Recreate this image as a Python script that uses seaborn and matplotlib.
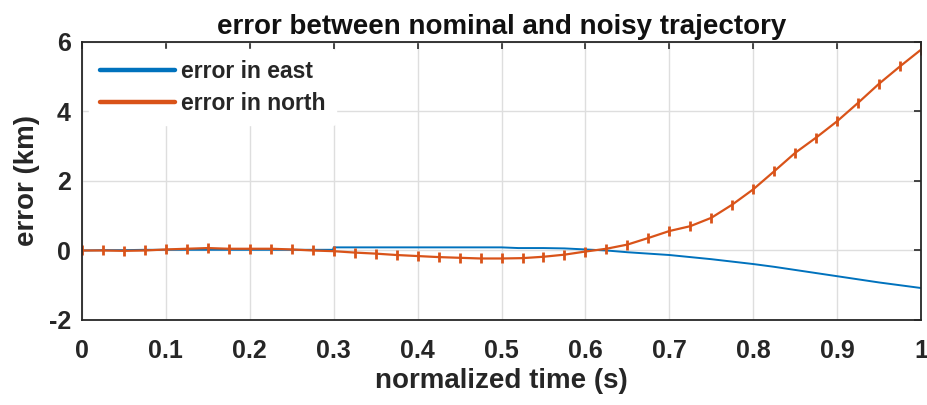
import numpy as np
import pandas as pd
import matplotlib
matplotlib.use("Agg")
import matplotlib.pyplot as plt
from matplotlib.lines import Line2D
import seaborn as sns

# ---- data ----
t_east = [0.0, 0.025, 0.05, 0.075, 0.1, 0.125, 0.15, 0.175, 0.2, 0.225, 0.25, 0.275, 0.299,
          0.3, 0.35, 0.4, 0.45, 0.5, 0.52, 0.55, 0.575, 0.6, 0.625, 0.65, 0.675, 0.7, 0.725,
          0.75, 0.775, 0.8, 0.825, 0.85, 0.875, 0.9, 0.925, 0.95, 0.975, 1.0]
err_east = [0.0, 0.01, 0.01, 0.02, 0.02, 0.02, 0.02, 0.02, 0.02, 0.02, 0.02, 0.02, 0.02,
            0.09, 0.09, 0.09, 0.09, 0.09, 0.07, 0.07, 0.06, 0.03, 0.0, -0.05, -0.09, -0.13, -0.19,
            -0.25, -0.32, -0.39, -0.47, -0.56, -0.65, -0.74, -0.83, -0.92, -1.0, -1.08]

t_north = [0.0, 0.025, 0.05, 0.075, 0.1, 0.125, 0.15, 0.175, 0.2, 0.225, 0.25, 0.275, 0.3,
           0.325, 0.35, 0.375, 0.4, 0.425, 0.45, 0.475, 0.5, 0.525, 0.55, 0.575, 0.6, 0.625,
           0.65, 0.675, 0.7, 0.725, 0.75, 0.775, 0.8, 0.825, 0.85, 0.875, 0.9, 0.925, 0.95,
           0.975, 1.0]
err_north = [0.0, 0.0, -0.01, 0.0, 0.03, 0.05, 0.07, 0.05, 0.05, 0.05, 0.03, 0.0, -0.02,
             -0.06, -0.09, -0.13, -0.16, -0.19, -0.21, -0.23, -0.23, -0.22, -0.18, -0.12, -0.03, 0.05,
             0.17, 0.36, 0.56, 0.70, 0.94, 1.32, 1.76, 2.28, 2.81, 3.25, 3.72, 4.25, 4.8,
             5.3, 5.78]

x_ticks = [0, 0.1, 0.2, 0.3, 0.4, 0.5, 0.6, 0.7, 0.8, 0.9, 1]
x_ticklabels = ["0", "0.1", "0.2", "0.3", "0.4", "0.5", "0.6", "0.7", "0.8", "0.9", "1"]
y_ticks = [-2, 0, 2, 4, 6]
y_ticklabels = ["-2", "0", "2", "4", "6"]
labels = ["error in east", "error in north"]
colors = ["#0072BD", "#D95319"]

df_e = pd.DataFrame({"t": t_east, "err": err_east})
df_n = pd.DataFrame({"t": t_north, "err": err_north})

sns.set_theme(style="white")
plt.rcParams["font.family"] = ["Liberation Sans", "DejaVu Sans"]
plt.rcParams["font.weight"] = "bold"
plt.rcParams["axes.unicode_minus"] = False

fig = plt.figure(figsize=(9.28, 4.05), dpi=100)
ax = fig.add_axes([0.0884, 0.2099, 0.9041, 0.6864])

sns.lineplot(data=df_e, x="t", y="err", ax=ax, color=colors[0], linewidth=1.4,
             estimator=None, sort=False)
sns.lineplot(data=df_n, x="t", y="err", ax=ax, color=colors[1], linewidth=1.6,
             marker="|", markersize=7, markeredgewidth=2.0, markeredgecolor=colors[1],
             estimator=None, sort=False)

ax.set_xlim(0, 1)
ax.set_ylim(-2, 6)
ax.set_xticks(x_ticks)
ax.set_xticklabels(x_ticklabels)
ax.set_yticks(y_ticks)
ax.set_yticklabels(y_ticklabels)
ax.grid(True, color="#dedede", linewidth=1.0)
ax.set_axisbelow(True)
for s in ax.spines.values():
    s.set_visible(True)
    s.set_color("#262626")
    s.set_linewidth(1.3)
ax.tick_params(direction="in", length=5, width=1.2, color="#262626",
               top=True, right=True, labelsize=18, labelcolor="#262626")
ax.tick_params(axis="x", pad=14)
ax.tick_params(axis="y", pad=8)
for lab in ax.get_xticklabels() + ax.get_yticklabels():
    lab.set_fontweight("bold")

ax.set_xlabel("normalized time (s)", fontsize=20, fontweight="bold", color="#262626", labelpad=3)
ax.set_ylabel("error (km)", fontsize=20, fontweight="bold", color="#262626", labelpad=6)
ax.set_title("error between nominal and noisy trajectory", fontsize=20, fontweight="bold",
             color="#111111", pad=6)

handles = [Line2D([0], [0], color=c, linewidth=3.2) for c in colors]
leg = ax.legend(handles, labels, loc="upper left", bbox_to_anchor=(0.0, 1.0),
                prop={"size": 16.5, "weight": "bold"}, frameon=True, facecolor="white",
                edgecolor="white", framealpha=1.0, handlelength=3.3, handletextpad=0.25,
                labelspacing=0.4, borderaxespad=0.32, borderpad=0.45)
for txt in leg.get_texts():
    txt.set_color("#262626")

fig.savefig("out.png", dpi=100)
